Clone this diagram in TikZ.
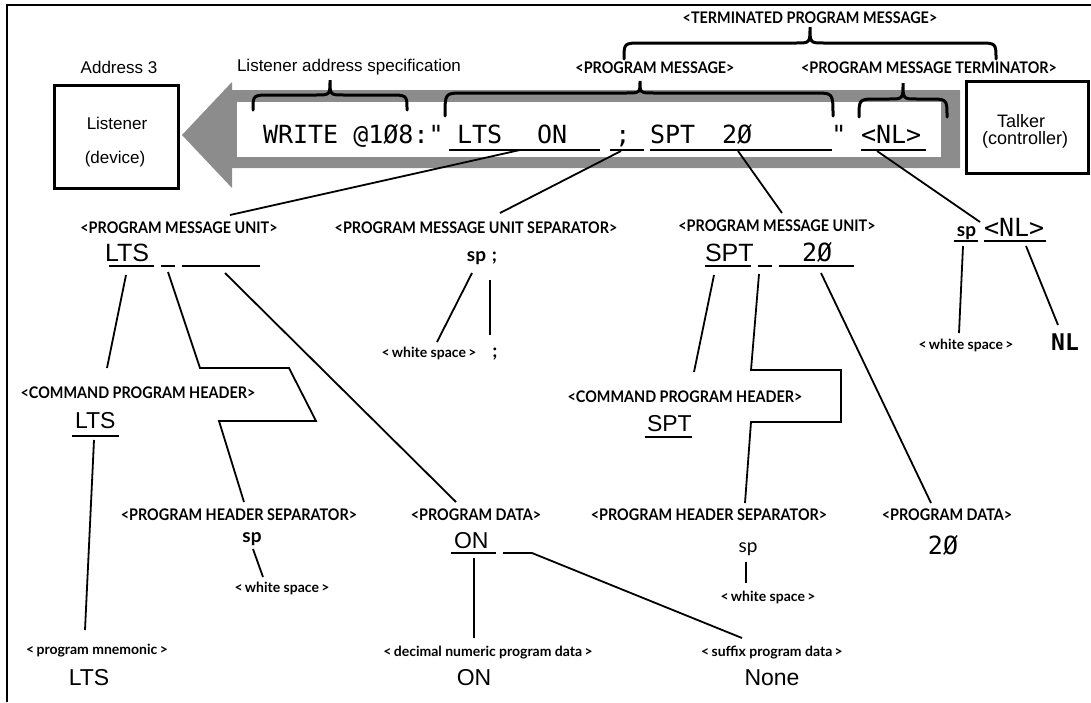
\documentclass[tikz,border=0pt]{standalone}
\usepackage{fontspec}
\setmainfont{Liberation Sans}
\newfontfamily\labfont{Lato}
\newfontfamily\caplabfont[FakeStretch=0.9]{Lato}
\newfontfamily\monofont{DejaVu Sans Mono}

% horizontal curly brace opening downwards:
% #1 left end x, #2 right end x, #3 tip x, #4 end y, #5 body y, #6 tip y
\newcommand\drawbrace[6]{%
  \draw[brc] (#1,#4) .. controls (#1,#5) .. ({#1+18},#5) -- ({#3-14},#5)
    .. controls (#3,#5) .. (#3,#6)
    .. controls (#3,#5) .. ({#3+14},#5) -- ({#2-18},#5)
    .. controls (#2,#5) .. (#2,#4);}

\tikzset{
  every node/.style={inner sep=0pt, outer sep=0pt},
  plain/.style={font=\fontsize{17}{20}\selectfont},
  talk/.style={font=\fontsize{18}{21}\selectfont},
  helv/.style={font=\fontsize{23}{26}\selectfont},
  helvbig/.style={font=\fontsize{25}{28}\selectfont},
  caplab/.style={font=\caplabfont\bfseries\fontsize{16}{18}\selectfont},
  lowlab/.style={font=\labfont\bfseries\fontsize{14}{16}\selectfont},
  splab/.style={font=\labfont\bfseries\fontsize{19}{21}\selectfont},
  splight/.style={font=\labfont\fontsize{19}{21}\selectfont},
  msg/.style={font=\monofont\fontsize{25}{28}\selectfont},
  msgbold/.style={font=\monofont\bfseries\fontsize{23}{26}\selectfont},
  conn/.style={line width=1.8pt},
  uline/.style={line width=2.4pt},
  brc/.style={line width=3pt, line cap=round},
  devbox/.style={draw, line width=3pt, fill=white},
}

\begin{document}
\begin{tikzpicture}[x=1pt,y=-1pt]
\useasboundingbox (0,0) rectangle (1091,702);

% frame
\draw[line width=2.5pt] (7,702) -- (7,5) -- (1091,5);

% hollow transfer arrow (talker -> listener)
\fill[black!45] (182,135) -- (232,82) -- (232,90) -- (960,90) -- (960,168)
  -- (232,168) -- (232,188) -- cycle;
\fill[white] (237,102) rectangle (941,157);

% braces
\drawbrace{253}{407}{330}{110}{95}{80}
\drawbrace{445}{833}{640}{116}{93}{81}
\drawbrace{859}{947}{903}{117}{99}{83}
\drawbrace{624}{996}{810}{59}{43}{27}

% devices
\node[devbox, minimum width=124, minimum height=103] (listener) at (116,136.5) {};
\node[devbox, minimum width=122, minimum height=92] (talker) at (1027,127) {};
\node[plain, anchor=base] (lname) at (117,129) {Listener};
\node[plain, anchor=base] (ldev) at (115,163) {(device)};
\node[talk, anchor=base] (tname) at (1021,127) {Talker};
\node[talk, anchor=base] (tctl) at (1025,144) {(controller)};

% headings
\node[plain, anchor=base] (addr) at (119,73) {Address 3};
\node[plain, anchor=base] (lspec) at (349,71) {Listener address specification};
\node[caplab, anchor=base] (tpm) at (810,23) {<TERMINATED PROGRAM MESSAGE>};
\node[caplab, anchor=base] (pm) at (655,73) {<PROGRAM MESSAGE>};
\node[caplab, anchor=base] (pmt) at (929,73) {<PROGRAM MESSAGE TERMINATOR>};

% the message line
\node[msg, anchor=base west] (mwrite) at (263,143) {WRITE @1Ø8:"};
\node[msg, anchor=base west] (mlts) at (457,143) {LTS};
\node[msg, anchor=base west] (mon) at (537,143) {ON};
\node[msg, anchor=base] (msemi) at (623,143) {;};
\node[msg, anchor=base west] (mspt) at (650,143) {SPT};
\node[msg, anchor=base west] (mtw) at (722,143) {2Ø};
\node[msg, anchor=base] (mquote) at (839,143) {"};
\node[msg, anchor=base west] (mnl) at (861,143) {<NL>};
\draw[uline] (449,150) -- (600,150) (610,150) -- (644,150)
  (650,150) -- (832,150) (861,150) -- (926,150);

% ---- first level
\node[caplab, anchor=base] (pmu1) at (179,233) {<PROGRAM MESSAGE UNIT>};
\node[helvbig, anchor=base west] (lts1) at (105,261) {LTS};
\draw[uline] (109,266) -- (154,266) (161,266) -- (175,266) (182,266) -- (260,266);

\node[caplab, anchor=base] (pmus) at (476,233) {<PROGRAM MESSAGE UNIT SEPARATOR>};
\node[splab, anchor=base] (sepsp) at (476.5,261) {sp};
\node[splab, anchor=base] (sepsc) at (494.5,261) {;};
\node[lowlab, anchor=base] (ws1) at (429,357) {<\,white space\,>};
\node[splab, anchor=base] (sc1) at (495,357) {;};

\node[caplab, anchor=base] (pmu2) at (777,231) {<PROGRAM MESSAGE UNIT>};
\node[helvbig, anchor=base west] (spt1) at (705,261) {SPT};
\node[msg, anchor=base west] (tw1) at (802,261) {2Ø};
\draw[uline] (705,266) -- (751,266) (758,266) -- (772,266) (779,266) -- (854,266);

\node[splab, anchor=base] (tsp) at (966.5,236) {sp};
\node[msg, anchor=base west] (tnl) at (984,236) {<NL>};
\draw[uline] (954,241) -- (978,241) (984,241) -- (1046,241);
\node[lowlab, anchor=base] (ws2) at (966,349) {<\,white space\,>};
\node[msgbold, anchor=base] (nl) at (1065,350) {NL};

% ---- second level, left unit
\node[caplab, anchor=base] (cph1) at (138,398) {<COMMAND PROGRAM HEADER>};
\node[helv, anchor=base west] (lts2) at (75,428) {LTS};
\draw[uline] (72,436) -- (119,436);
\node[caplab, anchor=base] (phs1) at (239,520) {<PROGRAM HEADER SEPARATOR>};
\node[splab, anchor=base] (sp1) at (252,542) {sp};
\node[lowlab, anchor=base] (ws3) at (282,592) {<\,white space\,>};
\node[caplab, anchor=base] (pd1) at (476,520) {<PROGRAM DATA>};
\node[helv, anchor=base west] (on1) at (454,548) {ON};
\draw[uline] (451,553) -- (496,553) (503,553) -- (532,553);

\node[lowlab, anchor=base] (mnem) at (97,654) {<\,program mnemonic\,>};
\node[helv, anchor=base] (lts3) at (89,685) {LTS};
\node[lowlab, anchor=base] (dec) at (488,656) {<\,decimal numeric program data\,>};
\node[helv, anchor=base] (on2) at (474,685) {ON};
\node[lowlab, anchor=base] (suf) at (772,656) {<\,suffix program data\,>};
\node[helv, anchor=base] (none) at (772,685) {None};

% ---- second level, right unit
\node[caplab, anchor=base] (cph2) at (685,402) {<COMMAND PROGRAM HEADER>};
\node[helv, anchor=base west] (spt2) at (647,431) {SPT};
\draw[uline] (645,437) -- (692,437);
\node[caplab, anchor=base] (phs2) at (709,520) {<PROGRAM HEADER SEPARATOR>};
\node[splight, anchor=base] (sp2) at (748,552) {sp};
\node[lowlab, anchor=base] (ws4) at (768,601) {<\,white space\,>};
\node[caplab, anchor=base] (pd2) at (947,520) {<PROGRAM DATA>};
\node[msg, anchor=base] (tw2) at (943,554) {2Ø};

% ---- connector end points
\coordinate (mltsU) at (520,150);
\coordinate (msemiU) at (621,151);
\coordinate (mtwU) at (738,151);
\coordinate (mnlU) at (877,151);
\coordinate (pmu1T) at (230,215);
\coordinate (pmusT) at (500,213);
\coordinate (pmu2T) at (782,213);
\coordinate (tnlT) at (980,222);

\coordinate (sepspB) at (472,273);
\coordinate (ws1T) at (437,342);
\coordinate (sepscB) at (490,280);
\coordinate (sc1T) at (490,335);
\coordinate (tspB) at (963,246);
\coordinate (ws2T) at (959,333);
\coordinate (tnlB) at (1026,246);
\coordinate (nlT) at (1058,325);

\coordinate (lts1B) at (126,275);
\coordinate (cph1T) at (107,368);
\coordinate (sep1B) at (168,272);
\coordinate (z1a) at (200,368);
\coordinate (z1b) at (289,368);
\coordinate (z1c) at (316,421);
\coordinate (z1d) at (219,421);
\coordinate (phs1T) at (244,502);
\coordinate (dat1B) at (225,273);
\coordinate (pd1T) at (456,502);
\coordinate (lts2B) at (94,440);
\coordinate (mnemT) at (85,630);
\coordinate (sp1B) at (253,549);
\coordinate (ws3T) at (263,577);
\coordinate (on1B) at (474,558);
\coordinate (decT) at (474,638);
\coordinate (sufB) at (532,553);
\coordinate (sufT) at (742,638);

\coordinate (spt1B) at (714,275);
\coordinate (cph2T) at (694,372);
\coordinate (sep2B) at (759,274);
\coordinate (z2a) at (751,370);
\coordinate (z2b) at (841,370);
\coordinate (z2c) at (841,422);
\coordinate (z2d) at (751,422);
\coordinate (phs2T) at (745,503);
\coordinate (tw1B) at (821,273);
\coordinate (pd2T) at (931,503);
\coordinate (sp2B) at (746,562);
\coordinate (ws4T) at (746,583);

% ---- connectors
\draw[conn] (mltsU) -- (pmu1T);
\draw[conn] (msemiU) -- (pmusT);
\draw[conn] (mtwU) -- (pmu2T);
\draw[conn] (mnlU) -- (tnlT);

\draw[conn] (sepspB) -- (ws1T);
\draw[conn] (sepscB) -- (sc1T);
\draw[conn] (tspB) -- (ws2T);
\draw[conn] (tnlB) -- (nlT);

\draw[conn] (lts1B) -- (cph1T);
\draw[conn] (sep1B) -- (z1a) -- (z1b) -- (z1c) -- (z1d) -- (phs1T);
\draw[conn] (dat1B) -- (pd1T);
\draw[conn] (lts2B) -- (mnemT);
\draw[conn] (sp1B) -- (ws3T);
\draw[conn] (on1B) -- (decT);
\draw[conn] (sufB) -- (sufT);

\draw[conn] (spt1B) -- (cph2T);
\draw[conn] (sep2B) -- (z2a) -- (z2b) -- (z2c) -- (z2d) -- (phs2T);
\draw[conn] (tw1B) -- (pd2T);
\draw[conn] (sp2B) -- (ws4T);
\end{tikzpicture}
\end{document}
